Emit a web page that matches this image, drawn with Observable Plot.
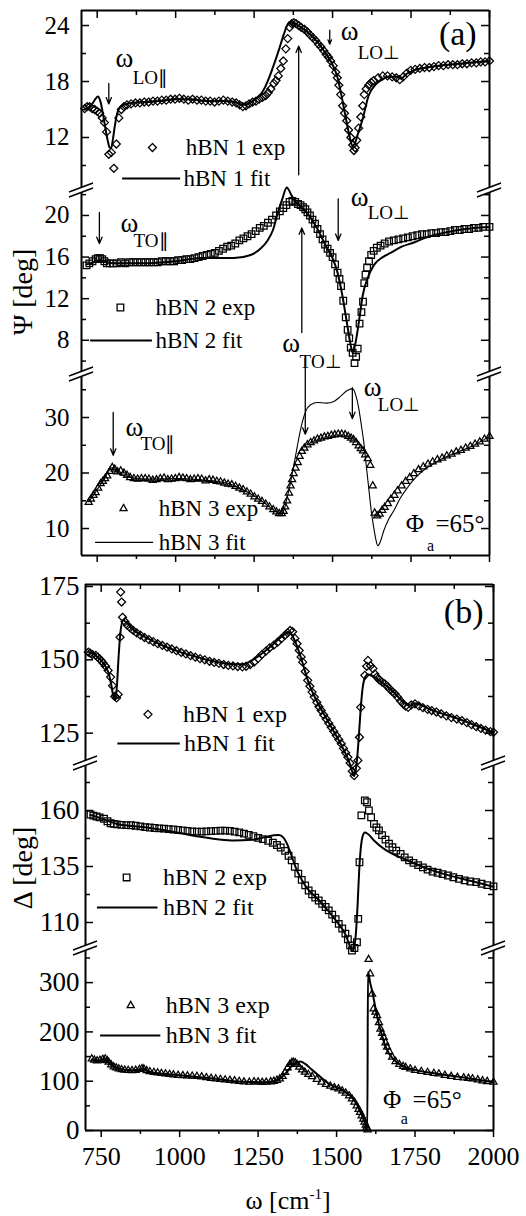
<!DOCTYPE html>
<html><head><meta charset="utf-8">
<script src="https://cdn.jsdelivr.net/npm/d3@7"></script>
<script src="https://cdn.jsdelivr.net/npm/@observablehq/plot@0.6"></script>
<style>
body{margin:0;background:#fff;}
#wrap{position:relative;width:526px;height:1216px;overflow:hidden;background:#fff;}
#wrap svg, #wrap svg text{font-family:'Liberation Serif','Times New Roman',serif !important;}
</style></head><body><div id="wrap"></div>
<script>
// ---------- data (ω in cm^-1, value in deg) ----------
const xMajor = [750, 1000, 1250, 1500, 1750, 2000];
const xMinor = [875, 1125, 1375, 1625, 1875];

const psi1Major = [12, 18, 24], psi1Minor = [9, 15, 21];
const psi2Major = [8, 12, 16, 20], psi2Minor = [6, 10, 14, 18, 22];
const psi3Major = [10, 20, 30], psi3Minor = [15, 25, 35];
const del1Major = [125, 150, 175], del1Minor = [137.5, 162.5];
const del2Major = [110, 135, 160], del2Minor = [122.5, 147.5, 172.5];
const del3Major = [0, 100, 200, 300], del3Minor = [50, 150, 250, 350];

const psi1Exp = [[710,15.1],[718,15.3],[726,15.3],[734,15.1],[742,15.0],[750,14.8],[758,14.6],[766,14.1],[773,13.6],[780,12.6],[787,10.2],[795,10.4],[803,8.7],[811,11.3],[819,14.1],[827,15.0],[835,15.3],[845,15.5],[858,15.6],[872,15.7],[886,15.7],[900,15.8],[914,15.8],[928,15.9],[942,15.9],[956,16.0],[970,16.0],[984,16.1],[998,16.1],[1012,16.2],[1026,16.1],[1040,16.0],[1054,16.1],[1068,16.0],[1082,16.0],[1096,15.9],[1110,15.9],[1124,15.8],[1138,15.9],[1152,16.0],[1166,15.9],[1180,15.8],[1193,15.7],[1204,15.5],[1214,15.3],[1224,15.4],[1234,15.6],[1245,15.8],[1256,15.9],[1266,16.1],[1277,16.3],[1287,16.5],[1295,16.8],[1303,17.2],[1313,17.8],[1320,18.1],[1327,18.6],[1335,19.4],[1343,20.2],[1351,21.5],[1357,22.6],[1363,23.8],[1370,24.2],[1377,24.3],[1384,24.2],[1392,24.0],[1400,23.8],[1410,23.6],[1420,23.3],[1428,23.0],[1437,22.7],[1446,22.4],[1455,22.0],[1463,21.7],[1472,21.3],[1480,20.9],[1487,20.6],[1494,20.2],[1502,19.7],[1510,19.0],[1515,18.4],[1520,17.6],[1526,16.6],[1532,15.4],[1538,14.6],[1545,13.8],[1551,12.8],[1558,12.0],[1564,11.2],[1568,10.6],[1572,10.9],[1577,11.7],[1583,13.0],[1590,14.2],[1596,15.4],[1601,16.6],[1607,17.2],[1615,17.6],[1623,17.9],[1631,18.1],[1645,18.4],[1660,18.6],[1675,18.6],[1690,18.5],[1703,18.4],[1714,18.2],[1725,18.5],[1737,18.9],[1749,19.2],[1763,19.3],[1778,19.4],[1793,19.5],[1808,19.5],[1823,19.6],[1838,19.7],[1853,19.7],[1868,19.8],[1883,19.8],[1898,19.8],[1913,19.9],[1928,19.9],[1943,20.0],[1958,20.0],[1972,20.1],[1986,20.1],[2000,20.2]];
const psi1Fit = [[710,15.0],[722,15.2],[734,15.6],[744,16.1],[752,16.4],[760,15.9],[768,14.6],[776,13.0],[784,11.6],[790,10.9],[795,10.9],[800,11.8],[806,13.2],[813,14.5],[820,15.1],[835,15.5],[860,15.7],[900,15.8],[950,15.9],[1000,16.1],[1050,16.1],[1100,15.9],[1150,15.9],[1190,15.8],[1210,15.5],[1230,15.6],[1250,16.0],[1270,16.6],[1285,17.4],[1300,18.6],[1315,20.0],[1330,21.5],[1345,23.1],[1355,24.0],[1365,24.4],[1375,24.3],[1390,24.0],[1420,23.3],[1450,22.3],[1480,20.9],[1500,19.8],[1515,18.5],[1530,16.2],[1545,13.6],[1555,12.0],[1563,11.1],[1570,11.3],[1580,12.3],[1596,14.0],[1615,16.5],[1635,17.6],[1653,18.1],[1680,18.5],[1705,18.5],[1718,18.3],[1735,18.8],[1760,19.2],[1800,19.5],[1900,19.9],[2000,20.2]];

const psi2Exp = [[716,15.2],[725,15.4],[735,15.6],[745,15.8],[752,15.9],[759,15.9],[766,15.8],[773,15.6],[781,15.4],[790,15.4],[800,15.4],[813,15.4],[826,15.5],[839,15.4],[852,15.5],[865,15.5],[878,15.5],[891,15.5],[904,15.5],[917,15.5],[930,15.5],[943,15.5],[956,15.6],[969,15.6],[982,15.6],[995,15.6],[1008,15.7],[1021,15.7],[1034,15.8],[1047,15.8],[1060,15.9],[1073,16.0],[1086,16.1],[1099,16.2],[1112,16.3],[1125,16.4],[1138,16.6],[1151,16.8],[1164,17.0],[1177,17.1],[1190,17.3],[1203,17.6],[1216,17.8],[1229,18.0],[1242,18.2],[1255,18.5],[1268,18.8],[1281,19.0],[1294,19.3],[1307,19.6],[1320,20.0],[1332,20.4],[1343,20.7],[1353,21.0],[1363,21.3],[1372,21.4],[1381,21.3],[1390,21.1],[1398,21.0],[1406,20.8],[1413,20.6],[1420,20.3],[1428,20.0],[1436,19.6],[1444,19.2],[1452,18.7],[1460,18.2],[1468,17.7],[1476,17.2],[1484,16.8],[1492,16.4],[1500,16.0],[1508,15.3],[1516,14.5],[1522,13.9],[1527,13.2],[1534,11.8],[1542,10.2],[1548,9.0],[1553,8.2],[1558,7.3],[1564,6.8],[1570,5.8],[1575,6.4],[1580,7.2],[1586,9.6],[1592,10.7],[1597,11.7],[1601,13.5],[1605,14.3],[1610,15.0],[1616,15.6],[1623,16.2],[1631,16.6],[1641,16.9],[1653,17.1],[1666,17.3],[1680,17.5],[1695,17.6],[1710,17.7],[1725,17.8],[1740,17.9],[1755,18.0],[1770,18.1],[1785,18.2],[1800,18.2],[1815,18.3],[1830,18.3],[1845,18.4],[1860,18.4],[1875,18.5],[1890,18.6],[1905,18.6],[1920,18.7],[1935,18.7],[1950,18.8],[1965,18.8],[1980,18.9],[2000,18.9]];
const psi2Fit = [[716,15.3],[740,15.5],[760,15.7],[780,15.5],[800,15.4],[900,15.4],[1000,15.6],[1080,15.9],[1130,15.9],[1185,15.9],[1239,16.2],[1270,16.8],[1293,17.6],[1310,18.6],[1325,20.2],[1340,21.6],[1354,22.7],[1368,22.0],[1382,21.3],[1400,20.8],[1420,20.2],[1450,18.8],[1480,17.0],[1500,15.9],[1515,14.6],[1530,12.5],[1545,9.8],[1556,7.8],[1564,6.8],[1572,7.6],[1584,9.8],[1596,12.3],[1612,14.0],[1631,15.2],[1660,16.0],[1685,16.4],[1720,17.0],[1759,17.4],[1800,17.9],[1850,18.3],[1900,18.6],[1950,18.8],[2000,18.9]];

const psi3Exp = [[723,14.7],[730,15.3],[738,16.0],[745,16.5],[753,17.3],[761,18.1],[768,18.5],[775,19.0],[782,19.5],[790,20.3],[798,21.0],[806,20.7],[815,20.2],[825,20.4],[835,20.0],[845,19.6],[855,19.2],[867,19.0],[879,18.9],[891,19.0],[903,19.0],[915,18.9],[927,18.7],[939,18.8],[951,19.0],[963,19.1],[975,18.8],[987,18.9],[999,19.0],[1011,19.2],[1023,19.1],[1035,19.0],[1047,18.8],[1059,18.9],[1071,19.0],[1083,18.9],[1095,18.6],[1107,18.8],[1119,18.7],[1131,18.5],[1143,18.4],[1155,18.2],[1167,18.0],[1179,17.9],[1191,17.6],[1203,17.3],[1215,17.0],[1227,16.6],[1239,16.2],[1251,15.7],[1263,15.3],[1275,14.9],[1287,14.4],[1299,13.9],[1311,13.4],[1321,13.0],[1330,12.7],[1338,12.7],[1344,13.1],[1349,13.9],[1355,15.0],[1361,16.4],[1366,17.7],[1371,18.8],[1376,19.9],[1382,20.9],[1389,21.9],[1395,23.0],[1402,23.9],[1410,24.5],[1420,25.1],[1430,25.5],[1441,25.8],[1452,26.1],[1463,26.3],[1474,26.5],[1485,26.6],[1496,26.8],[1507,26.9],[1518,27.0],[1529,27.0],[1540,26.9],[1550,26.6],[1559,26.3],[1567,26.0],[1575,25.5],[1583,24.9],[1590,24.4],[1597,24.0],[1604,23.3],[1612,22.6],[1620,21.4],[1628,17.7],[1634,12.8],[1642,12.3],[1650,12.6],[1658,13.3],[1666,13.8],[1676,14.5],[1686,15.3],[1697,16.0],[1707,16.8],[1720,17.7],[1733,18.5],[1746,19.2],[1759,19.9],[1774,20.6],[1789,21.1],[1804,21.6],[1819,22.0],[1834,22.4],[1849,22.7],[1864,23.1],[1879,23.4],[1894,23.8],[1909,24.1],[1924,24.5],[1939,24.8],[1954,25.2],[1969,25.6],[1984,26.1],[2000,26.6]];
const psi3Fit = [[723,14.8],[745,16.6],[770,18.7],[798,21.0],[815,20.0],[850,19.3],[900,18.9],[1000,19.0],[1100,18.7],[1180,17.9],[1240,16.2],[1290,14.3],[1320,13.0],[1335,12.6],[1345,13.3],[1355,15.5],[1365,18.0],[1375,21.0],[1385,24.0],[1395,27.0],[1405,29.5],[1415,31.2],[1430,32.3],[1452,32.7],[1480,32.6],[1504,32.9],[1525,33.8],[1548,34.9],[1564,35.2],[1575,33.8],[1583,31.8],[1592,28.5],[1600,25.3],[1608,21.0],[1615,17.4],[1623,13.3],[1631,10.2],[1638,8.0],[1644,6.9],[1652,7.6],[1663,9.6],[1678,11.6],[1695,13.2],[1715,15.4],[1739,17.4],[1765,19.2],[1790,20.5],[1820,21.6],[1850,22.6],[1900,23.8],[1950,25.0],[2000,26.6]];

const del1Exp = [[709,152.6],[715,152.3],[722,151.8],[733,151.5],[739,150.9],[745,150.3],[751,149.6],[756,148.9],[764,147.8],[772,146.4],[780,144.1],[786,141.2],[793,137.5],[799,137.0],[804,138.2],[810,157.7],[812,173.1],[815,169.7],[818,164.5],[826,163.0],[833,161.8],[842,160.9],[852,160.0],[863,159.2],[875,158.4],[888,157.6],[902,156.9],[916,156.2],[930,155.5],[945,154.9],[960,154.3],[975,153.7],[990,153.1],[1005,152.5],[1020,152.0],[1035,151.4],[1050,150.9],[1065,150.4],[1080,150.0],[1095,149.5],[1110,149.1],[1125,148.8],[1140,148.4],[1155,148.1],[1170,147.9],[1185,147.7],[1200,147.6],[1212,147.8],[1225,148.4],[1237,149.2],[1250,150.5],[1262,151.8],[1275,153.0],[1287,154.1],[1300,155.0],[1312,156.0],[1324,157.2],[1335,158.3],[1344,159.2],[1352,160.0],[1360,159.6],[1367,157.3],[1374,155.5],[1381,153.2],[1387,151.0],[1392,149.2],[1400,146.0],[1408,143.0],[1415,141.0],[1422,139.0],[1429,137.3],[1437,135.5],[1444,134.0],[1451,132.7],[1459,131.2],[1467,129.8],[1475,128.4],[1483,127.0],[1491,125.6],[1499,124.2],[1507,122.8],[1515,121.4],[1522,119.8],[1529,118.3],[1536,116.8],[1543,114.8],[1550,112.0],[1556,110.5],[1563,113.0],[1568,115.7],[1573,123.6],[1577,133.8],[1590,144.7],[1596,147.8],[1600,149.8],[1608,148.0],[1616,147.0],[1622,145.2],[1628,144.1],[1636,143.2],[1645,142.4],[1654,141.8],[1662,140.9],[1670,140.0],[1678,139.1],[1686,138.4],[1695,137.2],[1704,136.0],[1712,135.0],[1720,134.2],[1728,133.8],[1738,134.6],[1750,135.0],[1762,134.3],[1775,133.7],[1790,133.1],[1803,132.7],[1818,132.2],[1833,131.6],[1850,130.9],[1866,130.3],[1883,129.8],[1899,129.3],[1915,128.6],[1930,127.9],[1945,127.2],[1960,126.6],[1975,126.0],[1990,125.5],[2000,125.3]];
const del1Fit = [[709,152.8],[730,151.6],[750,149.8],[765,147.5],[775,145.0],[783,141.0],[790,137.0],[795,136.5],[800,141.0],[806,152.0],[812,160.0],[820,163.5],[830,162.8],[850,160.5],[900,157.2],[950,154.7],[1000,152.7],[1050,151.1],[1100,149.7],[1150,148.7],[1200,148.5],[1250,151.2],[1300,155.5],[1330,158.4],[1345,159.3],[1355,158.8],[1370,155.8],[1390,149.5],[1410,142.5],[1430,137.4],[1460,131.4],[1490,125.8],[1520,119.9],[1540,115.2],[1550,111.8],[1556,110.3],[1561,112.5],[1566,117.0],[1571,124.0],[1576,132.0],[1582,139.5],[1590,143.8],[1600,145.0],[1615,144.4],[1640,142.7],[1680,139.2],[1720,135.0],[1735,134.4],[1748,135.2],[1800,133.0],[1900,129.4],[2000,125.2]];

const del2Exp = [[716,158.2],[725,157.7],[735,157.3],[745,156.9],[759,156.3],[770,155.2],[780,154.3],[790,154.0],[800,153.8],[815,153.6],[830,153.5],[845,153.4],[860,153.2],[875,152.9],[890,152.6],[905,152.4],[920,152.2],[935,152.0],[950,151.9],[965,151.7],[980,151.5],[995,151.3],[1010,151.1],[1025,150.9],[1040,150.7],[1055,150.6],[1070,150.6],[1085,150.7],[1100,150.8],[1115,150.9],[1130,151.0],[1145,151.0],[1160,150.9],[1175,150.6],[1190,150.2],[1205,149.7],[1220,149.1],[1235,148.5],[1250,147.8],[1265,147.2],[1282,146.5],[1297,145.6],[1310,144.6],[1322,143.5],[1336,142.0],[1347,139.8],[1357,137.7],[1367,134.8],[1378,131.8],[1389,129.0],[1400,126.6],[1411,124.3],[1422,122.6],[1432,121.1],[1443,119.8],[1454,118.3],[1465,116.9],[1475,115.4],[1486,113.5],[1497,111.5],[1507,109.4],[1518,107.3],[1528,105.0],[1536,102.5],[1543,99.8],[1549,97.5],[1557,98.6],[1565,101.2],[1569,111.6],[1573,136.9],[1579,157.8],[1590,164.5],[1597,163.7],[1603,160.0],[1610,157.0],[1619,154.0],[1627,152.4],[1635,151.1],[1645,149.0],[1656,147.0],[1667,145.2],[1678,143.6],[1690,142.1],[1704,140.6],[1717,139.1],[1731,137.7],[1745,136.6],[1760,135.6],[1775,134.6],[1790,133.6],[1806,132.7],[1822,132.2],[1838,131.6],[1855,131.0],[1872,130.2],[1890,129.5],[1908,128.8],[1926,128.3],[1945,128.0],[1962,127.3],[1980,126.7],[2000,126.1]];
const del2Fit = [[716,158.0],[750,156.5],[800,154.0],[855,153.0],[900,152.3],[960,151.0],[1000,150.0],[1060,148.4],[1120,147.2],[1175,146.6],[1230,146.9],[1270,148.0],[1300,148.9],[1316,149.1],[1330,148.0],[1342,145.2],[1354,140.8],[1370,134.5],[1400,126.5],[1450,119.0],[1500,110.5],[1530,104.2],[1545,98.5],[1550,97.2],[1556,99.0],[1562,106.0],[1567,118.0],[1572,133.0],[1577,143.0],[1583,148.5],[1590,150.2],[1600,149.5],[1620,146.5],[1650,143.0],[1680,140.5],[1720,138.0],[1800,133.5],[1900,129.5],[2000,126.0]];

const del3Exp = [[720,145.4],[728,143.0],[737,141.5],[746,142.5],[755,144.5],[763,145.4],[769,142.0],[774,138.6],[782,133.0],[790,129.0],[798,127.0],[806,125.1],[815,123.5],[825,122.5],[836,121.9],[848,121.7],[860,122.3],[872,124.0],[880,125.5],[886,125.1],[895,121.5],[905,119.5],[918,118.0],[930,117.0],[942,116.0],[955,115.0],[968,114.0],[980,113.0],[995,112.0],[1010,111.5],[1025,110.8],[1040,110.3],[1055,109.8],[1070,109.0],[1085,107.5],[1100,106.0],[1115,104.8],[1130,103.8],[1145,102.8],[1160,101.9],[1175,101.0],[1190,99.8],[1205,98.5],[1222,98.0],[1237,99.0],[1250,98.5],[1263,97.8],[1276,98.0],[1290,99.0],[1300,100.0],[1310,102.0],[1319,104.9],[1328,110.0],[1336,118.0],[1344,127.0],[1351,134.0],[1357,137.8],[1362,138.6],[1368,137.5],[1374,134.0],[1381,128.5],[1390,123.0],[1399,118.3],[1410,114.0],[1422,109.5],[1437,104.0],[1452,98.0],[1466,93.5],[1480,90.0],[1493,87.0],[1506,84.6],[1518,80.5],[1529,76.0],[1540,70.5],[1549,64.3],[1557,57.5],[1564,50.0],[1570,43.0],[1575,37.1],[1580,30.0],[1585,23.0],[1589,16.9],[1593,11.0],[1596,6.8],[1599,1.5],[1602,347],[1607,318],[1613,277],[1618,247],[1624,240],[1629,233],[1635,219],[1640,206],[1645,197],[1650,189],[1656,178],[1661,169],[1668,160],[1677,149],[1688,140],[1700,134],[1712,130],[1720,128],[1735,125],[1750,122],[1770,120],[1790,118],[1810,116],[1826,115],[1845,112],[1865,110],[1885,108],[1905,107],[1920,106],[1933,105],[1950,103],[1965,101],[1980,99.5],[2000,98]];
const del3Fit = [[720,144],[735,141],[748,142],[762,146],[772,139],[785,131],[800,127],[825,123],[850,122],[872,124],[885,125],[900,120],[950,115],[1000,112],[1100,106],[1200,99],[1270,98],[1300,100],[1320,105],[1340,118],[1355,129],[1370,137],[1385,140],[1400,135],[1420,124],[1450,108],[1480,93],[1510,85],[1530,77],[1550,66],[1565,52],[1575,39],[1585,24],[1592,12],[1598,1],[1600,322],[1607,300],[1615,278],[1625,245],[1635,215],[1645,192],[1655,172],[1668,155],[1685,142],[1710,131],[1750,123],[1800,117],[1900,108],[2000,98]];

// ---------- annotations ----------
const PAR = "\u2225", PERP = "\u22A5";
const arrowsA1 = [{x:787,y1:17.8,y2:15.6},{x:1491,y1:23.5,y2:22.0},{x:1392,y1:8.0,y2:21.8}];
const omegaA1 = [{x:808,y:20.5},{x:1526,y:23.4}];
const subA1 = [{x:863,y:18.4,t:"LO"+PAR},{x:1580,y:21.1,t:"LO"+PERP}];
const arrowsA2 = [{x:757,y1:20.3,y2:17.3},{x:1402,y1:8.75,y2:18.8},{x:1518,y1:21.6,y2:17.6}];
const omegaA2 = [{x:824,y:19.2},{x:1340,y:7.7},{x:1558,y:21.7}];
const subA2 = [{x:866,y:17.6,t:"TO"+PAR},{x:1395,y:5.9,t:"TO"+PERP},{x:1612,y:20.2,t:"LO"+PERP}];
const arrowsA3 = [{x:801,y1:30.9,y2:23.2},{x:1413,y1:40.6,y2:27.0},{x:1563,y1:35.4,y2:29.8}];
const omegaA3 = [{x:840,y:28.2},{x:1599,y:35.4}];
const subA3 = [{x:888,y:25.3,t:"TO"+PAR},{x:1644,y:32.2,t:"LO"+PERP}];

// ---------- layout ----------
const W = 526;
const wrap = document.getElementById("wrap");
const FONT = "'Liberation Serif','Times New Roman',serif";

const panels = [
  {top:10, bot:190, ml:81, mr:37, domain:[6.32,25.61], major:psi1Major, minor:psi1Minor, exp:psi1Exp, fit:psi1Fit, sym:"diamond2", r:3.6, fitW:2, edgeTop:true, pad:12, fs:25, lfs:23,
   leg:{s:[926,10.92], e:[1032,10.92], l:[831,1016,7.6], f:[1025,7.6]}, name:"hBN 1",
   arrows:arrowsA1, omegas:omegaA1, subs:subA1, label:{t:"(a)", x:1899, y:23.1}},
  {top:190, bot:374, ml:81, mr:37, domain:[4.71,22.40], major:psi2Major, minor:psi2Minor, exp:psi2Exp, fit:psi2Fit, sym:"square2", r:4.2, fitW:2, pad:12, fs:25, lfs:23,
   leg:{s:[824,11.15], e:[936,11.15], l:[729,926,7.98], f:[936,7.98]}, name:"hBN 2",
   arrows:arrowsA2, omegas:omegaA2, subs:subA2},
  {top:374, bot:555, ml:81, mr:37, domain:[5.14,37.75], major:psi3Major, minor:psi3Minor, exp:psi3Exp, fit:psi3Fit, sym:"triangle2", r:3.4, fitW:1.1, edgeBottom:true, pad:12, fs:25, lfs:23,
   leg:{s:[834,13.6], e:[946,13.6], l:[745,930,7.5], f:[946,7.5]}, name:"hBN 3",
   arrows:arrowsA3, omegas:omegaA3, subs:subA3, phi:{x:1733, y:10.8, ax:1812, ay:6.9, ex:1828}},
  {top:584, bot:763, ml:85, mr:33, domain:[114.65,175.68], major:del1Major, minor:del1Minor, exp:del1Exp, fit:del1Fit, sym:"diamond2", r:3.6, fitW:2, edgeTop:true, pad:6, fs:27, lfs:24,
   leg:{s:[899,131.4], e:[1011,131.4], l:[803,1002,121.5], f:[1014,121.5]}, name:"hBN 1",
   label:{t:"(b)", x:1905, y:166.1}},
  {top:763, bot:948, ml:85, mr:33, domain:[98.39,180.98], major:del2Major, minor:del2Minor, exp:del2Exp, fit:del2Fit, sym:"square2", r:4.2, fitW:2, pad:6, fs:27, lfs:24,
   leg:{s:[831,130.1], e:[947,130.1], l:[738,931,116.7], f:[947,116.7]}, name:"hBN 2"},
  {top:948, bot:1130, ml:85, mr:33, domain:[0,369.2], major:del3Major, minor:del3Minor, exp:del3Exp, fit:del3Fit, sym:"triangle2", r:3.4, fitW:2, edgeBottom:true, xLabels:true, pad:6, fs:27, lfs:24,
   leg:{s:[844,253.5], e:[956,253.5], l:[748,940,192.7], f:[956,192.7]}, name:"hBN 3",
   phi:{x:1648, y:61.5, ax:1716, ay:23, ex:1742}}
];

function sub(c) {
  const fw = W - c.ml - c.mr, fh = c.bot - c.top;
  const [y0, y1] = c.domain;
  const tf = {fontFamily: FONT};
  const marks = [Plot.ruleX([700, 2000], {stroke: "black", strokeWidth: 2})];
  if (c.edgeTop) marks.push(Plot.ruleY([y1], {stroke: "black", strokeWidth: 2}),
    Plot.tickX(xMajor, {x: d => d, insetBottom: fh - 8, strokeWidth: 1.5}),
    Plot.tickX(xMinor, {x: d => d, insetBottom: fh - 5, strokeWidth: 1.5}));
  if (c.edgeBottom) marks.push(Plot.ruleY([y0], {stroke: "black", strokeWidth: 2}),
    Plot.tickX(xMajor, {x: d => d, insetTop: fh, insetBottom: -7, strokeWidth: 1.5}),
    Plot.tickX(xMinor, {x: d => d, insetTop: fh, insetBottom: -4, strokeWidth: 1.5}));
  marks.push(
    Plot.tickY(c.major, {y: d => d, insetRight: fw - 8, strokeWidth: 1.5}),
    Plot.tickY(c.major, {y: d => d, insetLeft: fw - 8, strokeWidth: 1.5}),
    Plot.tickY(c.minor, {y: d => d, insetRight: fw - 5, strokeWidth: 1.5}),
    Plot.tickY(c.minor, {y: d => d, insetLeft: fw - 5, strokeWidth: 1.5}),
    Plot.axisY({ticks: c.major, tickSize: 0, tickPadding: c.pad, fontSize: c.fs, label: null, tickFormat: d => String(d), ...tf})
  );
  if (c.xLabels) marks.push(Plot.axisX({ticks: xMajor, tickSize: 0, tickPadding: 16, fontSize: 26, label: null, tickFormat: d => String(d), ...tf}));
  marks.push(
    Plot.dot(c.exp, {x: d => d[0], y: d => d[1], symbol: c.sym, r: c.r, stroke: "black", fill: "none", strokeWidth: 1.25}),
    Plot.line(c.fit, {x: d => d[0], y: d => d[1], curve: "monotone-x", stroke: "black", strokeWidth: c.fitW})
  );
  const L = c.leg;
  marks.push(
    Plot.dot([L.s], {x: d => d[0], y: d => d[1], symbol: c.sym, r: c.r, stroke: "black", fill: "none", strokeWidth: 1.3}),
    Plot.text([L.e], {x: d => d[0], y: d => d[1], text: () => c.name + " exp", textAnchor: "start", fontSize: c.lfs, ...tf}),
    Plot.ruleY([L.l], {y: d => d[2], x1: d => d[0], x2: d => d[1], stroke: "black", strokeWidth: c.fitW}),
    Plot.text([L.f], {x: d => d[0], y: d => d[1], text: () => c.name + " fit", textAnchor: "start", fontSize: c.lfs, ...tf})
  );
  if (c.arrows) marks.push(
    Plot.arrow(c.arrows, {x1: "x", x2: "x", y1: "y1", y2: "y2", headLength: 8, headAngle: 45, stroke: "black", strokeWidth: 1.3}),
    Plot.text(c.omegas, {x: "x", y: "y", text: () => "\u03C9", textAnchor: "start", fontSize: 27, ...tf}),
    Plot.text(c.subs, {x: "x", y: "y", text: "t", textAnchor: "start", fontSize: 19, ...tf})
  );
  if (c.label) marks.push(Plot.text([c.label], {x: "x", y: "y", text: "t", fontSize: 34, ...tf}));
  if (c.phi) marks.push(
    Plot.text([c.phi], {x: "x", y: "y", text: () => "\u03A6", textAnchor: "start", fontSize: 25, ...tf}),
    Plot.text([c.phi], {x: "ax", y: "ay", text: () => "a", fontSize: 16, ...tf}),
    Plot.text([c.phi], {x: "ex", y: "y", text: () => "=65\u00B0", textAnchor: "start", fontSize: 25, ...tf})
  );
  const xOpt = {domain: [700, 2000]};
  if (!c.xLabels) xOpt.axis = null;
  const svg = Plot.plot({
    width: W, height: fh, marginTop: 0, marginBottom: 0, marginLeft: c.ml, marginRight: c.mr,
    x: xOpt, y: {domain: c.domain},
    marks
  });
  svg.setAttribute("font-family", FONT);
  svg.style.fontFamily = FONT;
  svg.style.position = "absolute";
  svg.style.left = "0px";
  svg.style.top = c.top + "px";
  svg.style.overflow = "visible";
  svg.style.background = "transparent";
  svg.style.maxWidth = "none";
  wrap.appendChild(svg);
}
panels.forEach(sub);

// ---------- overlay: axis breaks and titles ----------
const ov = d3.select(wrap).append("svg")
  .attr("width", W).attr("height", 1216).attr("font-family", FONT)
  .style("position", "absolute").style("left", "0px").style("top", "0px").style("overflow", "visible");
const breaks = [];
[0, 1, 3, 4].forEach(i => {
  const c = panels[i];
  breaks.push([c.ml, c.bot], [W - c.mr, c.bot]);
});
breaks.forEach(([x, y]) => {
  ov.append("polygon").attr("points", `${x-12},${y+2} ${x+12},${y-7} ${x+12},${y-2} ${x-12},${y+7}`).attr("fill", "white");
  ov.append("line").attr("x1", x-12).attr("y1", y+2).attr("x2", x+12).attr("y2", y-7).attr("stroke", "black").attr("stroke-width", 1.5);
  ov.append("line").attr("x1", x-12).attr("y1", y+7).attr("x2", x+12).attr("y2", y-2).attr("stroke", "black").attr("stroke-width", 1.5);
});
ov.append("text").attr("transform", "translate(22,292) rotate(-90)").attr("text-anchor", "middle").attr("dy", "0.35em")
  .attr("font-size", 28).text("\u03A8 [deg]");
ov.append("text").attr("transform", "translate(22,868) rotate(-90)").attr("text-anchor", "middle").attr("dy", "0.35em")
  .attr("font-size", 28).text("\u0394 [deg]");
const xt = ov.append("text").attr("x", 288).attr("y", 1209).attr("text-anchor", "middle").attr("font-size", 26);
xt.append("tspan").text("\u03C9 [cm");
xt.append("tspan").attr("font-size", 15).attr("dy", -10).text("-1");
xt.append("tspan").attr("dy", 10).text("]");
</script></body></html>
